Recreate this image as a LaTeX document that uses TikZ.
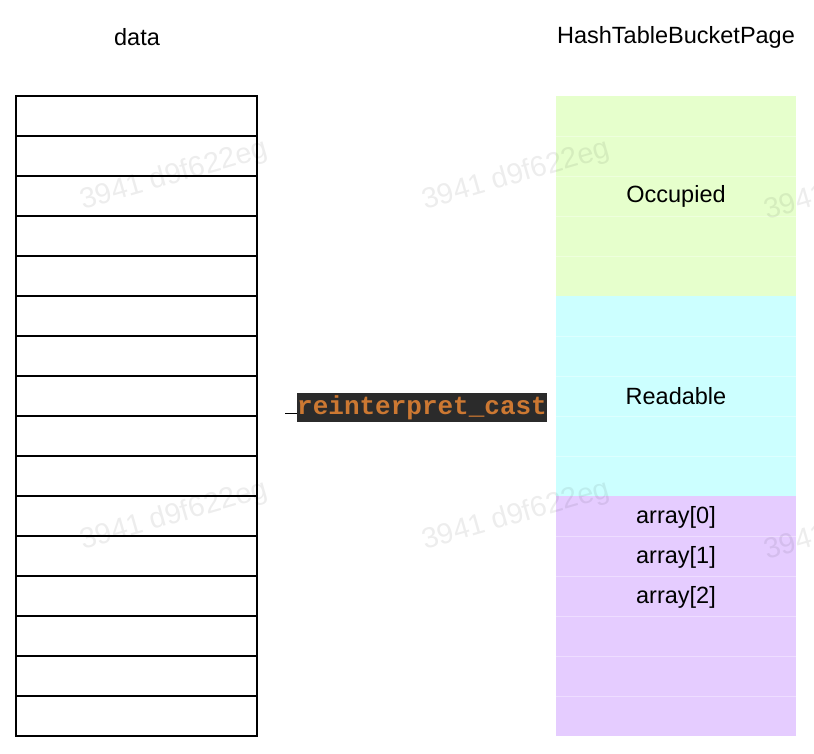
\documentclass[tikz,border=0pt]{standalone}
\usepackage{fontspec}
\setmainfont{Liberation Sans}
\newfontfamily\codefont{Liberation Mono}
\definecolor{occupiedfill}{HTML}{E6FFCC}
\definecolor{readablefill}{HTML}{CCFFFF}
\definecolor{arrayfill}{HTML}{E5CCFF}
\definecolor{codebg}{HTML}{2B2B2B}
\definecolor{codekw}{HTML}{CC7832}
\begin{document}
\begin{tikzpicture}[x=1pt,y=-1pt,
  title/.style={font=\fontsize{23.5}{28}\selectfont, text=black, inner sep=0pt},
  celltext/.style={font=\fontsize{23.5}{28}\selectfont, text=black, inner sep=0pt},
  datarow/.style={draw=black, line width=1.5pt, fill=white},
  seam/.style={draw=white, line width=0.7pt, opacity=0.35},
  codelabel/.style={fill=codebg, text=codekw, inner sep=0pt, minimum height=29pt,
    font=\codefont\bfseries\fontsize{26}{30}\selectfont},
  watermark/.style={text=black, opacity=0.07, rotate=16, inner sep=0pt,
    font=\fontsize{29}{34}\selectfont}
]
\useasboundingbox[fill=white] (0,0) rectangle (814,754);

% column titles
\node[title] (datatitle) at (137,37) {data};
\node[title] (pagetitle) at (676,37) {HashTableBucketPage};

% raw byte buffer: sixteen equal rows
\foreach \i in {0,...,15} {
  \draw[datarow] (16,{96+40*\i}) rectangle (257,{136+40*\i});
}
\coordinate (dataedge) at (285,413);

% bucket page layout
\fill[occupiedfill] (556,96) rectangle (796,296);
\fill[readablefill] (556,296) rectangle (796,496);
\fill[arrayfill] (556,496) rectangle (796,736);
\foreach \y in {136,176,216,256,336,376,416,456,536,576,616,656,696} {
  \draw[seam] (556,\y) -- (796,\y);
}
\node[celltext] (occupied) at (676,196) {Occupied};
\node[celltext] (readable) at (676,396) {Readable};
\node[celltext] (arr0) at (676,517) {array[0]};
\node[celltext] (arr1) at (676,557) {array[1]};
\node[celltext] (arr2) at (676,597) {array[2]};

% cast connector
\node[codelabel, anchor=west] (cast) at (297,407.5) {reinterpret\_cast};
\draw[black, line width=1pt] (dataedge) -- (dataedge -| cast.west);

% watermark
\foreach \cx/\cy in {174/176, 516/176, 858/186, 174/516, 516/516, 858/526} {
  \node[watermark] at (\cx,\cy) {3941 d9f622eg};
}
\end{tikzpicture}
\end{document}
